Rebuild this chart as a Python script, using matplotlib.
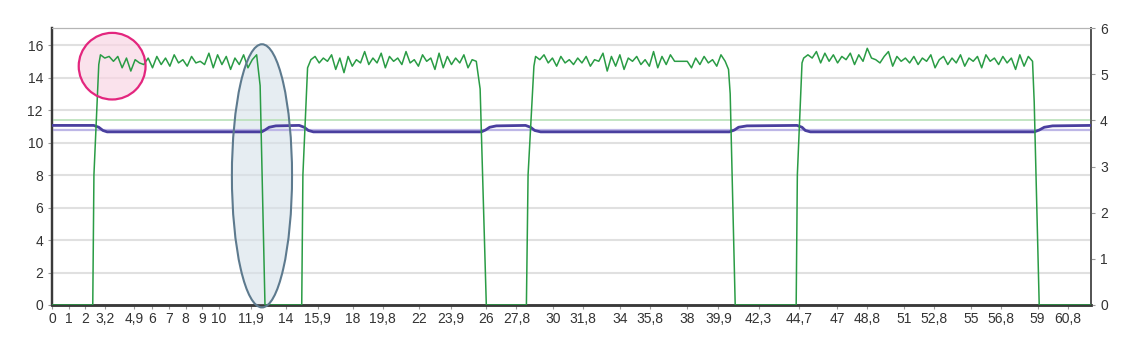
import numpy as np
import matplotlib
matplotlib.use("Agg")
import matplotlib.pyplot as plt
from matplotlib.patches import Ellipse

plt.rcParams['font.family'] = ['Liberation Sans', 'DejaVu Sans']

# x tick labels (time, comma decimals)
xticks = [0, 1, 2, 3.2, 4.9, 6, 7, 8, 9, 10, 11.9, 14, 15.9, 18, 19.8, 22, 23.9,
          26, 27.8, 30, 31.8, 34, 35.8, 38, 39.9, 42.3, 44.7, 47, 48.8, 51,
          52.8, 55, 56.8, 59, 60.8]
xtick_labels = [str(v).replace('.', ',') for v in xticks]

# green series: plateaus (start, end, values) and ramp points between them
plateau1 = (2.9, 12.25, [15.4, 15.2, 15.3, 15.0, 15.3, 14.6, 15.2, 14.4, 15.1, 14.9,
                         14.8, 15.2, 14.6, 15.3, 14.8, 15.2, 14.7, 15.4, 14.9, 15.1,
                         14.7, 15.3, 14.9, 15.0, 14.8, 15.5, 14.6, 15.4, 14.8, 15.3,
                         14.5, 15.2, 14.8, 15.4, 14.6, 15.1, 15.4])
plateau2 = (15.5, 25.4, [15.1, 15.3, 14.9, 15.2, 15.0, 15.4, 14.5, 15.2, 14.3, 15.3,
                         14.7, 15.1, 14.9, 15.6, 14.8, 15.2, 14.9, 15.5, 14.6, 15.3,
                         15.0, 15.2, 14.8, 15.6, 14.9, 15.1, 14.7, 15.4, 15.0, 15.2,
                         14.5, 15.5, 14.6, 15.3, 14.8, 15.2, 14.9, 15.4, 14.6, 15.1, 15.0])
plateau3 = (28.95, 40.3, [15.3, 15.1, 15.4, 14.9, 15.2, 14.7, 15.3, 14.9, 15.1, 14.8,
                          15.2, 14.9, 15.3, 14.7, 15.1, 15.0, 15.5, 14.4, 15.3, 14.7,
                          15.4, 14.5, 15.2, 15.0, 15.3, 14.8, 15.1, 14.7, 15.6, 14.6,
                          15.3, 14.8, 15.4, 15.0, 15.0, 15.0, 15.0, 14.6, 15.2, 14.8,
                          15.3, 14.9, 15.1, 14.7, 15.4, 15.0])
plateau4 = (45.0, 58.7, [15.2, 15.4, 15.2, 15.6, 14.9, 15.5, 15.0, 15.4, 14.9, 15.3,
                         15.1, 15.5, 14.8, 15.4, 15.0, 15.8, 15.2, 15.1, 14.9, 15.3,
                         15.6, 14.7, 15.3, 15.0, 15.2, 14.9, 15.3, 14.8, 15.2, 15.0,
                         15.4, 14.6, 15.1, 15.3, 14.8, 15.2, 14.9, 15.4, 14.7, 15.2,
                         15.0, 15.3, 14.6, 15.4, 15.0, 15.2, 14.8, 15.3, 14.9, 15.2,
                         14.5, 15.4, 14.7, 15.3, 15.0])
ramp_t = [[0, 2.44, 2.51, 2.8], [12.46, 12.75, 14.95, 15.02, 15.3],
          [25.63, 26.0, 28.4, 28.5, 28.85], [40.5, 40.6, 40.9, 44.55, 44.62, 44.9],
          [58.8, 59.1, 62.2]]
ramp_v = [[0, 0, 8, 14.8], [13.5, 0, 0, 8, 14.6],
          [13.3, 0, 0, 8, 14.7], [14.5, 13.0, 0, 0, 8, 14.9],
          [12.5, 0, 0]]

# purple series (right axis)
purple_t = [0, 2.5, 2.8, 3.05, 3.3, 12.55, 12.75, 13.0, 13.4, 14.8, 15.1, 15.35, 15.65,
            25.7, 25.95, 26.2, 26.6, 28.35, 28.65, 28.9, 29.25, 40.55, 40.85, 41.1,
            41.6, 44.6, 44.9, 45.1, 45.4, 58.8, 59.1, 59.4, 59.9, 62.2]
purple_v = [3.89, 3.89, 3.85, 3.78, 3.75, 3.75, 3.79, 3.85, 3.88, 3.89, 3.85, 3.78, 3.75,
            3.75, 3.79, 3.85, 3.88, 3.89, 3.85, 3.78, 3.75, 3.75, 3.79, 3.85,
            3.88, 3.89, 3.85, 3.78, 3.75, 3.75, 3.79, 3.85, 3.88, 3.89]
green_ref = 4.0
purple_ref = 3.78

# assemble green line
gt, gv = [], []
plateaus = [plateau1, plateau2, plateau3, plateau4]
for i in range(5):
    gt += ramp_t[i]
    gv += ramp_v[i]
    if i < 4:
        s, e, vals = plateaus[i]
        gt += list(np.linspace(s, e, len(vals)))
        gv += vals

fig = plt.figure(figsize=(11.26, 3.41), dpi=100)
ax = fig.add_axes([52 / 1126, 36 / 341, 1039 / 1126, 277 / 341])
ax2 = ax.twinx()

ax.set_xlim(0, 62.2)
ax.set_ylim(0, 17.05)
ax2.set_ylim(0, 6)

for y in range(2, 17, 2):
    ax.axhline(y, color='#e0e0e0', lw=1.5, zorder=0)

# annotation fills sit under the lines, outlines on top
ax2.add_patch(Ellipse((3.6, 14.7 * 6 / 17.05), 4.0, 4.1 * 6 / 17.05, facecolor='#f9d6e4',
                      alpha=0.7, edgecolor='none', zorder=0.5))
ax2.add_patch(Ellipse((12.57, 7.95 * 6 / 17.05), 3.6, 16.2 * 6 / 17.05, facecolor='#d6e1ea',
                      alpha=0.6, edgecolor='none', zorder=0.5, clip_on=False))

ax2.axhline(green_ref, color='#b9e0b9', lw=1.2, zorder=1)
ax2.axhline(purple_ref, color='#bdb6e6', lw=1.6, zorder=1)
ax2.plot(purple_t, purple_v, color='#4a3f9f', lw=2.0, zorder=3)
ax2.plot(gt, np.array(gv) * 6 / 17.05, color='#2a9c45', lw=1.1, zorder=3)

ax2.add_patch(Ellipse((3.6, 14.7 * 6 / 17.05), 4.0, 4.1 * 6 / 17.05, facecolor='none',
                      edgecolor='#e3267e', lw=1.6, zorder=5))
ax2.add_patch(Ellipse((12.57, 7.95 * 6 / 17.05), 3.6, 16.2 * 6 / 17.05, facecolor='none',
                      edgecolor='#5d7a8e', lw=1.5, zorder=5, clip_on=False))

ax.set_xticks(xticks)
ax.set_xticklabels(xtick_labels)
ax.set_yticks(range(0, 17, 2))
ax2.set_yticks(range(0, 7))

for a in (ax, ax2):
    a.tick_params(labelsize=10, colors='#333333', length=3, width=0.8)
    a.tick_params(axis='both', color='#999999')
    a.spines['top'].set_color('#b5b5b5')
    a.spines['left'].set_color('#3a3a3a')
    a.spines['left'].set_linewidth(1.6)
    a.spines['bottom'].set_color('#3a3a3a')
    a.spines['bottom'].set_linewidth(1.8)
    a.spines['right'].set_color('#555555')
    a.spines['right'].set_linewidth(1.3)
ax.tick_params(axis='x', pad=2)

fig.savefig("out.png", dpi=100)
